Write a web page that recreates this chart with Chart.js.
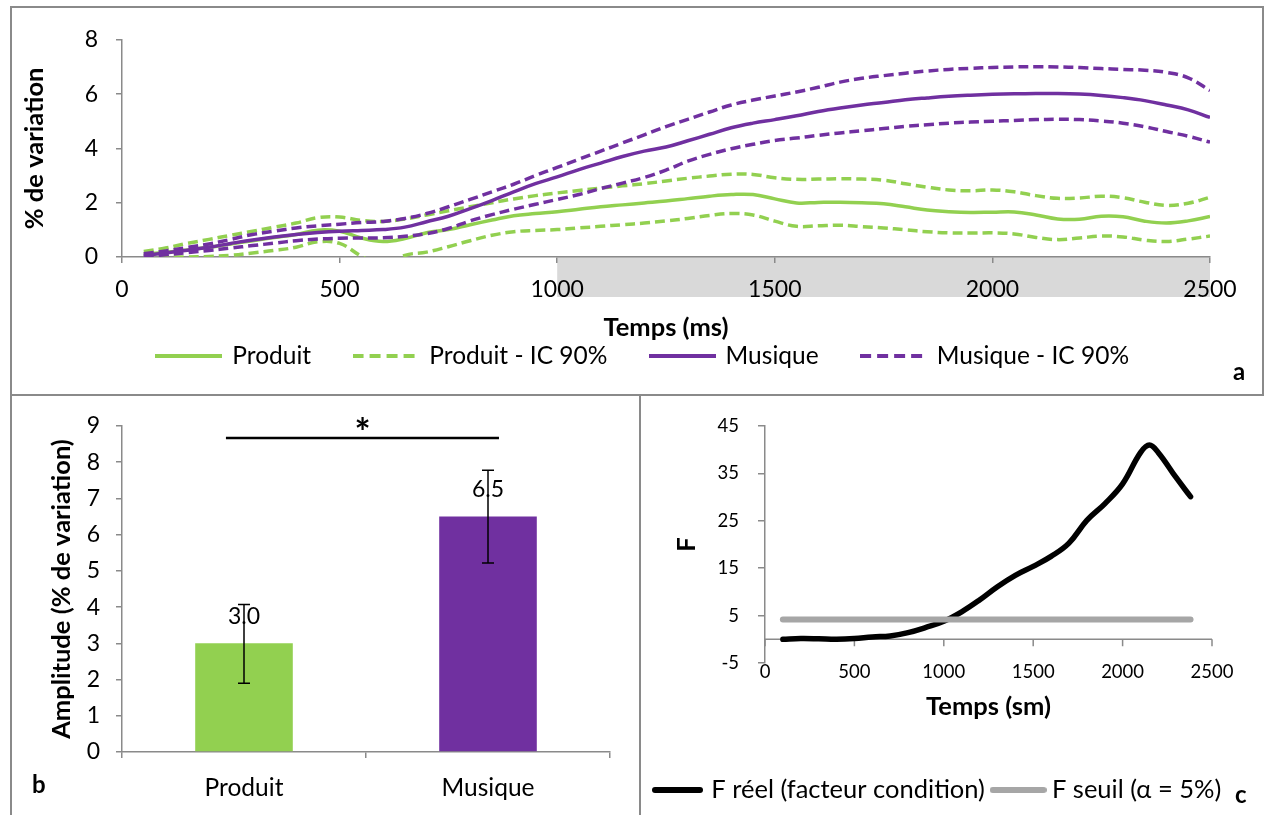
<!DOCTYPE html>
<html lang="fr">
<head>
<meta charset="utf-8">
<title>Variation pupillaire</title>
<script src="https://cdn.jsdelivr.net/npm/chart.js@4.4.1/dist/chart.umd.min.js"></script>
<style>
  body { margin: 0; background: #fff; }
  .cadre { position: absolute; box-sizing: border-box; border: 0 solid #8a8a8a; }
  #cadreA { left: 10px; top: 6px; width: 1254px; height: 390px; border-width: 2px; }
  #cadreB { left: 10px; top: 396px; width: 629px; height: 419px; border-left-width: 2px; }
  #cadreC { left: 639px; top: 396px; width: 628px; height: 419px; border-left-width: 2px; }
  canvas { display: block; }
</style>
</head>
<body>
<div class="cadre" id="cadreA"><canvas id="graphA" width="1250" height="386"></canvas></div>
<div class="cadre" id="cadreB"><canvas id="graphB" width="627" height="419"></canvas></div>
<div class="cadre" id="cadreC"><canvas id="graphC" width="626" height="419"></canvas></div>
<script>
// --- a : % de variation au cours du temps ---
const tempsA = [50, 100, 150, 200, 250, 300, 350, 400, 450, 500, 550, 600, 650, 700, 750, 800, 850, 900, 950, 1000,
  1050, 1100, 1150, 1200, 1250, 1300, 1350, 1400, 1450, 1500, 1550, 1600, 1650, 1700, 1750, 1800, 1850, 1900, 1950, 2000,
  2050, 2100, 2150, 2200, 2250, 2300, 2350, 2400, 2450, 2500];
const produit = [0.1, 0.17, 0.26, 0.36, 0.48, 0.6, 0.72, 0.83, 0.99, 0.95, 0.7, 0.57, 0.68, 0.89, 1.01, 1.19, 1.36, 1.52, 1.6, 1.67,
  1.76, 1.85, 1.92, 1.99, 2.06, 2.15, 2.24, 2.3, 2.3, 2.14, 1.99, 2.01, 2.02, 2.0, 1.96, 1.85, 1.73, 1.67, 1.64, 1.65,
  1.66, 1.55, 1.4, 1.39, 1.5, 1.48, 1.32, 1.25, 1.33, 1.49];
const produitHaut = [0.2, 0.33, 0.5, 0.65, 0.8, 0.95, 1.1, 1.25, 1.45, 1.47, 1.35, 1.31, 1.4, 1.55, 1.7, 1.85, 2.0, 2.14, 2.26, 2.36,
  2.45, 2.54, 2.62, 2.7, 2.8, 2.9, 2.98, 3.05, 3.04, 2.92, 2.86, 2.87, 2.88, 2.87, 2.83, 2.7, 2.57, 2.47, 2.44, 2.47,
  2.4, 2.26, 2.16, 2.17, 2.24, 2.18, 2.02, 1.9, 1.98, 2.2];
const produitBas = [-0.02, 0, 0, 0.02, 0.06, 0.15, 0.24, 0.36, 0.56, 0.5, 0.03, -0.35, 0.06, 0.18, 0.38, 0.6, 0.8, 0.93, 0.98, 1.01,
  1.07, 1.13, 1.19, 1.25, 1.33, 1.42, 1.53, 1.6, 1.55, 1.32, 1.13, 1.15, 1.17, 1.12, 1.07, 1.0, 0.93, 0.89, 0.88, 0.89,
  0.85, 0.72, 0.64, 0.7, 0.77, 0.74, 0.62, 0.57, 0.66, 0.77];
const musique = [0.06, 0.15, 0.25, 0.36, 0.5, 0.63, 0.74, 0.83, 0.9, 0.95, 0.98, 1.01, 1.1, 1.3, 1.5, 1.78, 2.08, 2.4, 2.7, 2.95,
  3.22, 3.46, 3.7, 3.9, 4.05, 4.28, 4.52, 4.76, 4.93, 5.06, 5.2, 5.36, 5.49, 5.6, 5.69, 5.79, 5.86, 5.92, 5.96, 5.99,
  6.01, 6.02, 6.02, 6.0, 5.95, 5.87, 5.76, 5.6, 5.42, 5.14];
const musiqueHaut = [0.12, 0.22, 0.35, 0.48, 0.65, 0.83, 0.95, 1.07, 1.15, 1.21, 1.27, 1.31, 1.42, 1.6, 1.85, 2.12, 2.4, 2.68, 3.0, 3.3,
  3.6, 3.9, 4.2, 4.5, 4.8, 5.07, 5.34, 5.6, 5.78, 5.93, 6.08, 6.25, 6.44, 6.58, 6.68, 6.77, 6.85, 6.91, 6.95, 6.98,
  7.0, 7.01, 7.0, 6.98, 6.94, 6.91, 6.88, 6.8, 6.6, 6.13];
const musiqueBas = [0.02, 0.08, 0.16, 0.24, 0.33, 0.42, 0.51, 0.6, 0.66, 0.69, 0.7, 0.71, 0.76, 0.86, 1.05, 1.33, 1.56, 1.76, 1.94, 2.12,
  2.3, 2.52, 2.72, 2.93, 3.2, 3.53, 3.78, 3.99, 4.15, 4.29, 4.38, 4.48, 4.57, 4.65, 4.73, 4.81, 4.87, 4.93, 4.97, 5.0,
  5.03, 5.06, 5.07, 5.06, 5.01, 4.93, 4.8, 4.62, 4.45, 4.23];
const bandeDebut = 1000, bandeFin = 2500;

// --- b : amplitude ---
const conditions = ['Produit', 'Musique'];
const amplitude = [3.0, 6.5];
const erreurBas = [1.9, 5.22];
const erreurHaut = [4.07, 7.78];
const niveauSignif = 8.67;

// --- c : F au cours du temps ---
const tempsC = [100, 200, 300, 400, 500, 600, 700, 800, 900, 1000, 1100, 1200, 1300, 1400, 1500, 1600, 1700, 1800,
  1900, 2000, 2100, 2150, 2200, 2300, 2380];
const fReel = [0, 0.15, 0.1, 0, 0.15, 0.5, 0.7, 1.4, 2.5, 3.8, 5.8, 8.3, 11.1, 13.5, 15.4, 17.5, 20.3, 25.1,
  28.6, 32.8, 39.4, 41, 39.4, 34.1, 30.1];
const tempsSeuil = [100, 2380];
const fSeuil = [4.2, 4.2];

const VERT = '#92d050';
const VIOLET = '#7030a0';
const GRIS_AXE = '#8a8a8a';

Chart.defaults.font.family = 'Lato, "Open Sans", sans-serif';
Chart.defaults.color = '#000';
Chart.defaults.animation = false;
Chart.defaults.plugins.tooltip.enabled = false;

const points = (xs, ys) => xs.map((x, i) => ({ x: x, y: ys[i] }));
const entier = v => String(v);
const parIndice = (a, b) => a.datasetIndex - b.datasetIndex;
const titreGras = { size: 25.5, weight: 'bold', lineHeight: 1 };
const grille = (tl) => ({ drawOnChartArea: false, tickLength: tl, color: GRIS_AXE, lineWidth: 1.5 });
const bordure = { color: GRIS_AXE, width: 1.5 };

// petit trait de légende (plein ou pointillé)
function echantillon(couleur, longueur, pointille, epaisseur, bouts) {
  const c = document.createElement('canvas');
  c.width = longueur;
  c.height = 10;
  const g = c.getContext('2d');
  g.strokeStyle = couleur;
  g.lineWidth = epaisseur;
  g.lineCap = bouts;
  if (pointille) g.setLineDash([11, 6]);
  const marge = bouts === 'round' ? epaisseur / 2 : 0;
  g.beginPath();
  g.moveTo(marge, 5);
  g.lineTo(longueur - marge, 5);
  g.stroke();
  return c;
}

// lettre de panneau (a, b, c)
function lettre(texte, x, y) {
  return {
    id: 'lettre' + texte,
    afterDraw(chart) {
      const ctx = chart.ctx;
      ctx.save();
      ctx.font = 'bold 24px Lato';
      ctx.fillStyle = '#000';
      ctx.textBaseline = 'alphabetic';
      ctx.fillText(texte, x, y);
      ctx.restore();
    }
  };
}

function courbe(label, ys, couleur, pointille, ordre, enLegende) {
  return {
    label: label,
    data: points(tempsA, ys),
    borderColor: couleur,
    backgroundColor: couleur,
    borderWidth: 3.5,
    borderDash: pointille ? [10, 5] : [],
    pointRadius: 0,
    pointStyle: echantillon(couleur, 67, pointille, 4, 'butt'),
    tension: 0.4,
    order: ordre,
    enLegende: enLegende
  };
}

// bande grise sous l'axe des x (1000 - 2500 ms)
const bandeGrise = {
  id: 'bandeGrise',
  beforeDraw(chart) {
    const { ctx, chartArea, scales: { x } } = chart;
    const x1 = x.getPixelForValue(bandeDebut);
    const x2 = x.getPixelForValue(bandeFin);
    ctx.save();
    ctx.fillStyle = '#d9d9d9';
    ctx.fillRect(x1, chartArea.bottom, x2 - x1, 40);
    ctx.restore();
  }
};

new Chart(document.getElementById('graphA'), {
  type: 'line',
  data: {
    datasets: [
      courbe('Produit', produit, VERT, false, 1, true),
      courbe('Produit - IC 90%', produitHaut, VERT, true, 1, true),
      courbe('Produit - IC 90%', produitBas, VERT, true, 1, false),
      courbe('Musique', musique, VIOLET, false, 0, true),
      courbe('Musique - IC 90%', musiqueHaut, VIOLET, true, 0, true),
      courbe('Musique - IC 90%', musiqueBas, VIOLET, true, 0, false)
    ]
  },
  options: {
    responsive: false,
    devicePixelRatio: 1,
    layout: { padding: { left: 13, right: 0, top: 25, bottom: 15.75 } },
    scales: {
      x: {
        type: 'linear', min: 0, max: 2500,
        ticks: { stepSize: 500, callback: entier, padding: 13, font: { size: 23 }, maxRotation: 0 },
        grid: grille(6),
        border: bordure,
        title: { display: true, text: 'Temps (ms)', font: titreGras, padding: { top: 0, bottom: -41 } },
        afterFit: s => { s.height = 42.75; }
      },
      y: {
        min: 0, max: 8,
        ticks: { stepSize: 2, callback: entier, padding: 18, font: { size: 23 } },
        grid: grille(6),
        border: bordure,
        title: { display: true, text: '% de variation', font: titreGras, padding: { top: -2.75, bottom: 0 } },
        afterFit: s => { s.width = 97; }
      },
      yDroite: {
        type: 'linear', position: 'right',
        grid: { display: false }, border: { display: false }, ticks: { display: false },
        afterFit: s => { s.width = 52; }
      }
    },
    plugins: {
      legend: {
        position: 'bottom',
        labels: {
          usePointStyle: true, pointStyleWidth: 62,
          padding: 44, font: { size: 24.5 },
          filter: (item, data) => data.datasets[item.datasetIndex].enLegende !== false,
          sort: parIndice
        }
      }
    }
  },
  plugins: [bandeGrise, lettre('a', 1221, 372)]
});

// barres d'erreur, valeurs et trait de significativité
const annotationsB = {
  id: 'annotationsB',
  afterDatasetsDraw(chart) {
    const { ctx, scales: { x, y } } = chart;
    const barres = chart.getDatasetMeta(0).data;
    ctx.save();
    ctx.fillStyle = '#000';
    ctx.strokeStyle = '#000';
    barres.forEach((barre, i) => {
      ctx.font = '23px Lato';
      ctx.textAlign = 'center';
      ctx.textBaseline = 'middle';
      ctx.fillText(amplitude[i].toFixed(1), barre.x, y.getPixelForValue(amplitude[i]) - 26.5);
      const yb = y.getPixelForValue(erreurBas[i]);
      const yh = y.getPixelForValue(erreurHaut[i]);
      ctx.lineWidth = 1.5;
      ctx.beginPath();
      ctx.moveTo(barre.x, yb); ctx.lineTo(barre.x, yh);
      ctx.moveTo(barre.x - 6, yb); ctx.lineTo(barre.x + 6, yb);
      ctx.moveTo(barre.x - 6, yh); ctx.lineTo(barre.x + 6, yh);
      ctx.stroke();
    });
    const ys = y.getPixelForValue(niveauSignif);
    const xg = x.getPixelForValue(-0.074);
    const xd = x.getPixelForValue(1.045);
    ctx.lineWidth = 2.5;
    ctx.beginPath();
    ctx.moveTo(xg, ys); ctx.lineTo(xd, ys);
    ctx.stroke();
    ctx.font = 'bold 38px Lato';
    ctx.textAlign = 'center';
    ctx.textBaseline = 'alphabetic';
    ctx.fillText('*', (xg + xd) / 2, ys + 8);
    ctx.restore();
  }
};

new Chart(document.getElementById('graphB'), {
  type: 'bar',
  data: {
    labels: conditions,
    datasets: [{ data: amplitude, backgroundColor: [VERT, VIOLET], barPercentage: 0.4, categoryPercentage: 1 }]
  },
  options: {
    responsive: false,
    devicePixelRatio: 1,
    layout: { padding: { left: 0, right: 29, top: 30, bottom: 0 } },
    scales: {
      x: {
        ticks: { padding: 15.3, font: { size: 24.5 } },
        grid: grille(6),
        border: bordure,
        afterFit: s => { s.height = 63; }
      },
      y: {
        min: 0, max: 9,
        ticks: { stepSize: 1, callback: entier, padding: 16, font: { size: 23 } },
        grid: grille(6),
        border: bordure,
        title: { display: true, text: 'Amplitude (% de variation)', font: titreGras, padding: { top: 37.25, bottom: 0 } },
        afterFit: s => { s.width = 110; }
      }
    },
    plugins: { legend: { display: false } }
  },
  plugins: [annotationsB, lettre('b', 20, 397)]
});

// axe horizontal tracé à F = 0
const axeZero = {
  id: 'axeZero',
  beforeDatasetsDraw(chart) {
    const { ctx, chartArea, scales: { x, y } } = chart;
    const y0 = y.getPixelForValue(0);
    ctx.save();
    ctx.strokeStyle = GRIS_AXE;
    ctx.lineWidth = 1.5;
    ctx.beginPath();
    ctx.moveTo(chartArea.left, y0);
    ctx.lineTo(chartArea.right, y0);
    x.ticks.forEach(t => {
      const px = x.getPixelForValue(t.value);
      ctx.moveTo(px, y0);
      ctx.lineTo(px, y0 + 7);
    });
    ctx.stroke();
    ctx.restore();
  }
};

new Chart(document.getElementById('graphC'), {
  type: 'line',
  data: {
    datasets: [
      { label: 'F réel (facteur condition)', data: points(tempsC, fReel), borderColor: '#000', backgroundColor: '#000',
        borderWidth: 5.5, borderCapStyle: 'round', pointRadius: 0, tension: 0.4, order: 1,
        pointStyle: echantillon('#000', 51, false, 6, 'round') },
      { label: 'F seuil (α = 5%)', data: points(tempsSeuil, fSeuil), borderColor: '#a6a6a6', backgroundColor: '#a6a6a6',
        borderWidth: 6, borderCapStyle: 'round', pointRadius: 0, order: 0,
        pointStyle: echantillon('#a6a6a6', 57, false, 6, 'round') }
    ]
  },
  options: {
    responsive: false,
    devicePixelRatio: 1,
    layout: { padding: { left: 3.25, right: 0, top: 29, bottom: 2.25 } },
    scales: {
      x: {
        type: 'linear', min: 0, max: 2500,
        ticks: { stepSize: 500, callback: entier, padding: 0, font: { size: 18.5, lineHeight: 1 }, maxRotation: 0 },
        grid: { display: false, drawTicks: false },
        border: { display: false },
        title: { display: true, text: 'Temps (sm)', font: titreGras, padding: { top: 0, bottom: 45.25 } },
        afterFit: s => { s.height = 102; }
      },
      y: {
        min: -5, max: 45,
        ticks: { stepSize: 10, callback: entier, padding: 19, font: { size: 18.5 } },
        grid: grille(7),
        border: bordure,
        title: { display: true, text: 'F', font: titreGras, padding: { top: 30, bottom: 0 } },
        afterFit: s => { s.width = 120.75; }
      },
      yDroite: {
        type: 'linear', position: 'right',
        grid: { display: false }, border: { display: false }, ticks: { display: false },
        afterFit: s => { s.width = 55; }
      }
    },
    plugins: {
      legend: {
        position: 'bottom',
        align: 'start',
        labels: {
          usePointStyle: true, pointStyleWidth: 42,
          padding: 12.25, font: { size: 25.5 }, sort: parIndice
        }
      }
    }
  },
  plugins: [axeZero, lettre('c', 594, 407)]
});
</script>
</body>
</html>
